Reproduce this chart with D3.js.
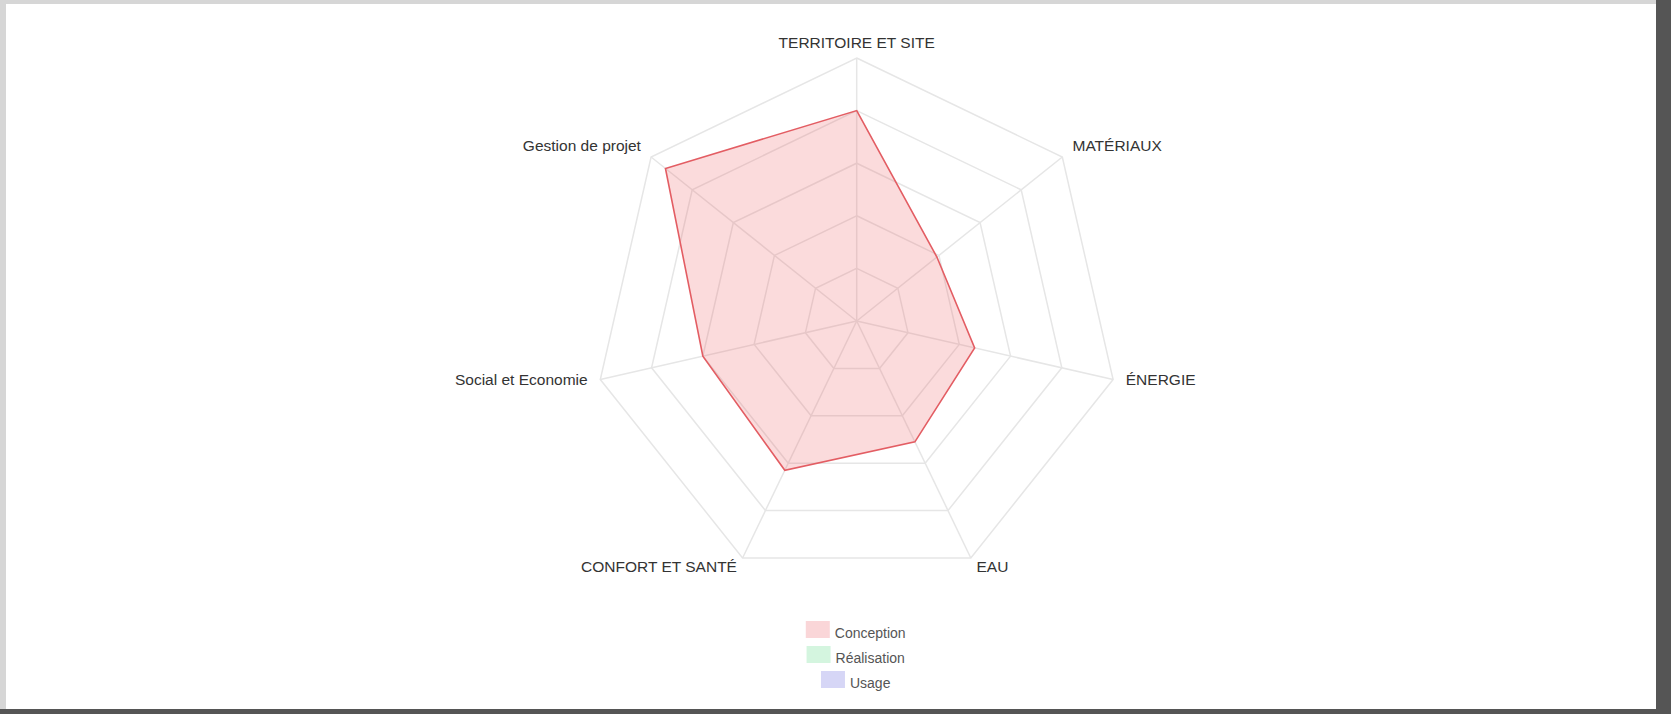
<!DOCTYPE html>
<html>
<head>
<meta charset="utf-8">
<script src="https://cdn.jsdelivr.net/npm/d3@7/dist/d3.min.js"></script>
<style>
  html, body { margin: 0; padding: 0; background: #555555; }
  svg { display: block; }
  text { font-family: Arial, "Liberation Sans", Helvetica, sans-serif; }
</style>
</head>
<body>
<svg id="chart" width="1671" height="714"></svg>
<script>
// Axes of the radar, clockwise from the top
const categories = ["TERRITOIRE ET SITE", "MATÉRIAUX", "ÉNERGIE", "EAU", "CONFORT ET SANTÉ", "Social et Economie", "Gestion de projet"];

// Scores per phase (0–100)
const conception = [80, 39, 46, 51, 63, 60, 93];
const realisation = [];
const usage = [];

// Grid rings
const ticks = [20, 40, 60, 80, 100];

const seriesNames = ["Conception", "Réalisation", "Usage"];
const seriesData = [conception, realisation, usage];
const seriesFill = ["rgba(238, 90, 96, 0.22)", "rgba(60, 200, 120, 0.2)", "rgba(90, 90, 220, 0.2)"];
const seriesStroke = ["#e35d63", "#3cc878", "#5a5adc"];
const legendFill = ["#fad6d8", "#d4f5df", "#d6d6f6"];

const svg = d3.select("#chart");
const W = 1671, H = 714;

// page frame
svg.append("rect").attr("width", W).attr("height", H).attr("fill", "#555555");
svg.append("rect").attr("width", 1656).attr("height", 709).attr("fill", "#d6d6d6");
svg.append("rect").attr("x", 6).attr("y", 4).attr("width", 1650).attr("height", 705).attr("fill", "#ffffff");

const cx = 856.7, cy = 321, R = 263;
const g = svg.append("g").attr("transform", `translate(${cx},${cy})`);

const r = d3.scaleLinear().domain([0, 100]).range([0, R]);
const angle = d3.scaleLinear().domain([0, categories.length]).range([0, 2 * Math.PI]);

const ringLine = d3.lineRadial()
  .angle((d, i) => angle(i))
  .radius(d => r(d))
  .curve(d3.curveLinearClosed);

// concentric heptagons
g.selectAll("path.ring")
  .data(ticks)
  .join("path")
  .attr("class", "ring")
  .attr("d", t => ringLine(categories.map(() => t)))
  .attr("fill", "none")
  .attr("stroke", "#e6e6e6")
  .attr("stroke-width", 1.5);

// spokes
g.selectAll("line.spoke")
  .data(categories)
  .join("line")
  .attr("class", "spoke")
  .attr("x1", 0).attr("y1", 0)
  .attr("x2", (d, i) => r(100) * Math.sin(angle(i)))
  .attr("y2", (d, i) => -r(100) * Math.cos(angle(i)))
  .attr("stroke", "#e6e6e6")
  .attr("stroke-width", 1.5);

// series areas
seriesData.forEach((vals, s) => {
  if (!vals.length) return;
  g.append("path")
    .attr("d", ringLine(vals))
    .attr("fill", seriesFill[s])
    .attr("stroke", seriesStroke[s])
    .attr("stroke-width", 1.6)
    .attr("stroke-linejoin", "miter");
});

// axis labels
const pad = 13;
g.selectAll("text.axis-label")
  .data(categories)
  .join("text")
  .attr("class", "axis-label")
  .each(function (d, i) {
    const a = angle(i);
    const ux = Math.sin(a), uy = -Math.cos(a);
    const x = (R + pad) * ux, y = (R + pad) * uy;
    const anchor = Math.abs(ux) < 0.05 ? "middle" : (ux > 0 ? "start" : "end");
    d3.select(this)
      .attr("x", x)
      .attr("y", y - 3)
      .attr("text-anchor", anchor)
      .attr("dominant-baseline", "central");
  })
  .attr("font-size", 15.5)
  .attr("fill", "#333")
  .text(d => d);

// legend: one centred row per series
const legend = svg.append("g").attr("transform", `translate(${cx - 1},621)`);
seriesNames.forEach((name, s) => {
  const row = legend.append("g").attr("transform", `translate(0,${s * 25})`);
  const label = row.append("text")
    .attr("x", 29)
    .attr("y", 12)
    .attr("dominant-baseline", "central")
    .attr("font-size", 14)
    .attr("fill", "#555")
    .text(name);
  const tw = label.node().getComputedTextLength();
  const total = 29 + tw;
  row.attr("transform", `translate(${-total / 2},${s * 25})`);
  row.insert("rect", "text")
    .attr("x", 0).attr("y", 0)
    .attr("width", 24).attr("height", 17)
    .attr("fill", legendFill[s]);
});
</script>
</body>
</html>
